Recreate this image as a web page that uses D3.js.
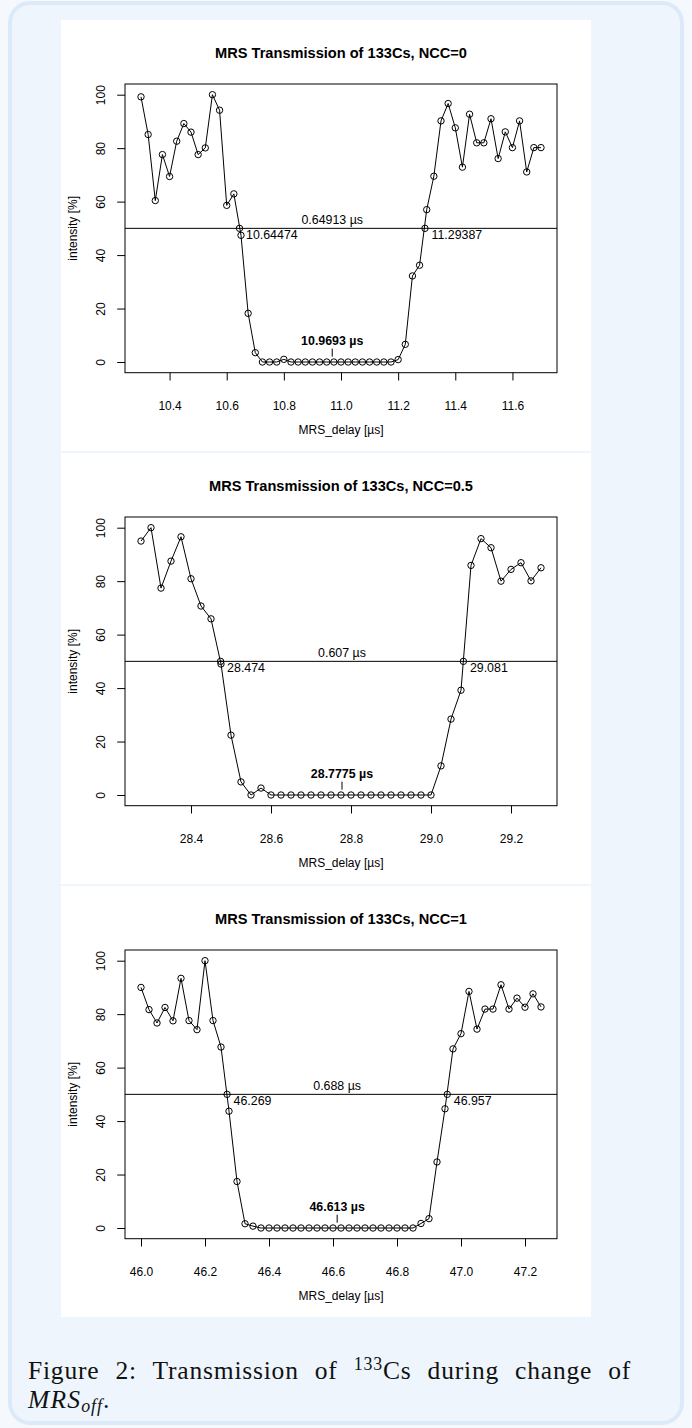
<!DOCTYPE html>
<html>
<head>
<meta charset="utf-8">
<script src="https://cdn.jsdelivr.net/npm/d3@7"></script>
<style>
  html, body { margin: 0; padding: 0; background: #f5f9fe; }
  svg { display: block; }
  text { font-family: "Liberation Sans", Arial, Helvetica, sans-serif; fill: #000; }
  .cap text { font-family: "Liberation Serif", "Times New Roman", serif; fill: #111; }
</style>
</head>
<body>
<svg id="fig" width="692" height="1428"></svg>
<script>
// ---- data ----
const titles = ['MRS Transmission of 133Cs, NCC=0', 'MRS Transmission of 133Cs, NCC=0.5', 'MRS Transmission of 133Cs, NCC=1'];

const delay0 = [10.3, 10.325, 10.35, 10.375, 10.4, 10.425, 10.45, 10.475, 10.5, 10.525, 10.55, 10.575, 10.6, 10.625, 10.65, 10.675, 10.7, 10.725, 10.75, 10.775,
  10.8, 10.825, 10.85, 10.875, 10.9, 10.925, 10.95, 10.975, 11.0, 11.025, 11.05, 11.075, 11.1, 11.125, 11.15, 11.175,
  11.2, 11.225, 11.25, 11.275, 11.3, 11.325, 11.35, 11.375, 11.4, 11.425, 11.45, 11.475, 11.5, 11.525, 11.55, 11.575, 11.6, 11.625, 11.65, 11.675, 11.7];
const intens0 = [99.2, 85.1, 60.4, 77.6, 69.4, 82.6, 89.2, 86.0, 77.6, 80.1, 100, 94.2, 58.6, 62.9, 47.4, 18.2, 3.5, 0, 0, 0,
  1.0, 0, 0, 0, 0, 0, 0, 0, 0, 0, 0, 0, 0, 0, 0, 0,
  0.9, 6.6, 32.2, 36.2, 57.0, 69.5, 90.2, 96.7, 87.6, 72.9, 92.7, 82.0, 82.0, 91.0, 76.1, 86.1, 80.2, 90.2, 71.1, 80.2, 80.2];

const delay1 = [28.275, 28.3, 28.325, 28.35, 28.375, 28.4, 28.425, 28.45, 28.475, 28.5, 28.525, 28.55, 28.575, 28.6,
  28.625, 28.65, 28.675, 28.7, 28.725, 28.75, 28.775, 28.8, 28.825, 28.85, 28.875, 28.9, 28.925, 28.95, 28.975,
  29.0, 29.025, 29.05, 29.075, 29.1, 29.125, 29.15, 29.175, 29.2, 29.225, 29.25, 29.275];
const intens1 = [95.0, 100, 77.4, 87.5, 96.6, 80.9, 70.7, 65.9, 49.0, 22.4, 4.9, 0, 2.6, 0,
  0, 0, 0, 0, 0, 0, 0, 0, 0, 0, 0, 0, 0, 0, 0,
  0, 10.9, 28.4, 39.2, 85.9, 95.9, 92.5, 80.0, 84.4, 86.9, 80.1, 85.0];

const delay2 = [46.0, 46.025, 46.05, 46.075, 46.1, 46.125, 46.15, 46.175, 46.2, 46.225, 46.25, 46.275, 46.3, 46.325, 46.35,
  46.375, 46.4, 46.425, 46.45, 46.475, 46.5, 46.525, 46.55, 46.575, 46.6, 46.625, 46.65, 46.675, 46.7, 46.725, 46.75, 46.775, 46.8, 46.825, 46.85,
  46.875, 46.9, 46.925, 46.95, 46.975, 47.0, 47.025, 47.05, 47.075, 47.1, 47.125, 47.15, 47.175, 47.2, 47.225, 47.25];
const intens2 = [90.0, 81.7, 76.7, 82.5, 77.5, 93.4, 77.6, 74.2, 100, 77.6, 67.7, 43.7, 17.4, 1.6, 0.7,
  0, 0, 0, 0, 0, 0, 0, 0, 0, 0, 0, 0, 0, 0, 0, 0, 0, 0, 0, 0,
  1.7, 3.5, 24.7, 44.6, 67.0, 72.7, 88.5, 74.4, 81.9, 81.9, 91.0, 81.9, 86.0, 82.6, 87.6, 82.7];

// 50% crossings found by the fit
const crossings = [[10.64474, 11.29387], [28.474, 29.081], [46.269, 46.957]];

const xTicks = [[10.4, 10.6, 10.8, 11.0, 11.2, 11.4, 11.6],
  [28.4, 28.6, 28.8, 29.0, 29.2],
  [46.0, 46.2, 46.4, 46.6, 46.8, 47.0, 47.2]];
const yTicks = [0, 20, 40, 60, 80, 100];
const halfLevel = 50;

const delays = [delay0, delay1, delay2];
const intens = [intens0, intens1, intens2];

// ---- layout ----
const imgX = 61, imgW = 530, imgH = 431, imgTops = [20, 453, 886];
const mar = { left: 64, top: 64 };
const pw = 432, ph = 288.7;

const svg = d3.select('#fig');

// card behind everything
svg.append('rect')
  .attr('x', 10).attr('y', 3).attr('width', 672).attr('height', 1420)
  .attr('rx', 20).attr('fill', '#eef5fd')
  .attr('stroke', '#dce9f9').attr('stroke-width', 4);

const fmt6 = v => String(parseFloat(v.toPrecision(6)));

function panel(i) {
  const xs = delays[i], ys = intens[i];
  const g = svg.append('g').attr('transform', 'translate(' + imgX + ',' + imgTops[i] + ')');
  g.append('rect').attr('width', imgW).attr('height', imgH).attr('fill', '#fff');

  const p = g.append('g').attr('transform', 'translate(' + mar.left + ',' + mar.top + ')');

  // R style 4% padding on both axes
  const ext = d3.extent(xs), pad = (ext[1] - ext[0]) * 0.04;
  const x = d3.scaleLinear().domain([ext[0] - pad, ext[1] + pad]).range([0, pw]);
  const y = d3.scaleLinear().domain([-4, 104]).range([ph, 0]);

  // x axis
  const ax = p.append('g').attr('transform', 'translate(0,' + ph + ')')
    .call(d3.axisBottom(x).tickValues(xTicks[i]).tickFormat(d3.format('.1f')).tickSize(7.8).tickPadding(21));
  ax.select('.domain').remove();
  ax.selectAll('line').attr('stroke', '#000');
  ax.selectAll('text').attr('font-size', 12).attr('font-family', null).attr('fill', '#000');

  // y axis, labels parallel to the axis like R
  const ay = p.append('g')
    .call(d3.axisLeft(y).tickValues(yTicks).tickSize(7.8));
  ay.select('.domain').remove();
  ay.selectAll('line').attr('stroke', '#000');
  ay.selectAll('text')
    .attr('x', null).attr('dy', null).attr('font-size', 12).attr('font-family', null).attr('fill', '#000')
    .attr('text-anchor', 'middle')
    .attr('transform', 'translate(-20,0) rotate(-90)');

  // frame
  p.append('rect').attr('width', pw).attr('height', ph)
    .attr('fill', 'none').attr('stroke', '#000').attr('stroke-width', 1);

  // titles and axis labels
  g.append('text').attr('x', mar.left + pw / 2).attr('y', mar.top - 26.5)
    .attr('text-anchor', 'middle').attr('font-size', 14.6).attr('font-weight', 'bold')
    .text(titles[i]);
  p.append('text').attr('x', pw / 2).attr('y', ph + 61)
    .attr('text-anchor', 'middle').attr('font-size', 12).text('MRS_delay [µs]');
  p.append('text').attr('transform', 'translate(-48,' + (ph / 2) + ') rotate(-90)')
    .attr('text-anchor', 'middle').attr('font-size', 12).text('intensity [%]');

  // half level line
  p.append('line').attr('x1', 0).attr('x2', pw).attr('y1', y(halfLevel)).attr('y2', y(halfLevel))
    .attr('stroke', '#000').attr('stroke-width', 1);

  // data: type = "o"
  const line = d3.line().x((d, k) => x(xs[k])).y(d => y(d));
  p.append('path').datum(ys).attr('d', line)
    .attr('fill', 'none').attr('stroke', '#000').attr('stroke-width', 1);
  p.selectAll('circle.pt').data(ys).join('circle').attr('class', 'pt')
    .attr('cx', (d, k) => x(xs[k])).attr('cy', d => y(d)).attr('r', 3.2)
    .attr('fill', 'none').attr('stroke', '#000').attr('stroke-width', 1);

  // crossings
  const c = crossings[i];
  p.selectAll('circle.cx').data(c).join('circle').attr('class', 'cx')
    .attr('cx', d => x(d)).attr('cy', y(halfLevel)).attr('r', 3.2)
    .attr('fill', 'none').attr('stroke', '#000').attr('stroke-width', 1);
  p.selectAll('text.cl').data(c).join('text').attr('class', 'cl')
    .attr('x', d => x(d) + 6.5).attr('y', y(halfLevel) + 11)
    .attr('font-size', 12.4).text(d => String(d));

  const mid = (c[0] + c[1]) / 2, width = c[1] - c[0];
  p.append('text').attr('x', x(mid)).attr('y', y(halfLevel) - 4.3)
    .attr('text-anchor', 'middle').attr('font-size', 12.4).text(fmt6(width) + ' µs');
  p.append('line').attr('x1', x(mid)).attr('x2', x(mid)).attr('y1', y(2)).attr('y2', y(5))
    .attr('stroke', '#000').attr('stroke-width', 1);
  p.append('text').attr('x', x(mid)).attr('y', y(5) - 3.7)
    .attr('text-anchor', 'middle').attr('font-size', 12.4).attr('font-weight', 'bold')
    .text(fmt6(mid) + ' µs');
}

[0, 1, 2].forEach(panel);

// caption (LaTeX style, two lines)
const fs = 25.5;
const cap = svg.append('g').attr('class', 'cap');
const l1 = cap.append('text').attr('x', 28).attr('y', 1379).attr('font-size', fs);
l1.append('tspan').text('Figure 2:  Transmission of ');
l1.append('tspan').attr('font-size', fs * 0.7).attr('dy', -9).text('133');
l1.append('tspan').attr('dy', 9).text('Cs during change of');
// widen a little so the line ends where the scanned one does
const want = 612, got = l1.node().getComputedTextLength();
const nChars = l1.text().length;
const ls = Math.min(0.8, Math.max(0, (want - got) / nChars));
l1.attr('letter-spacing', ls);
const got2 = l1.node().getComputedTextLength();
l1.attr('word-spacing', Math.max(0, Math.min(9, (want - got2) / 8)));

const l2 = cap.append('text').attr('x', 28).attr('y', 1408).attr('font-size', fs);
l2.append('tspan').attr('font-style', 'italic').attr('letter-spacing', 1.2).text('MRS');
l2.append('tspan').attr('font-style', 'italic').attr('font-size', fs * 0.7).attr('dy', 4).attr('letter-spacing', 1).text('off');
l2.append('tspan').attr('dy', -4).text('.');
</script>
</body>
</html>
